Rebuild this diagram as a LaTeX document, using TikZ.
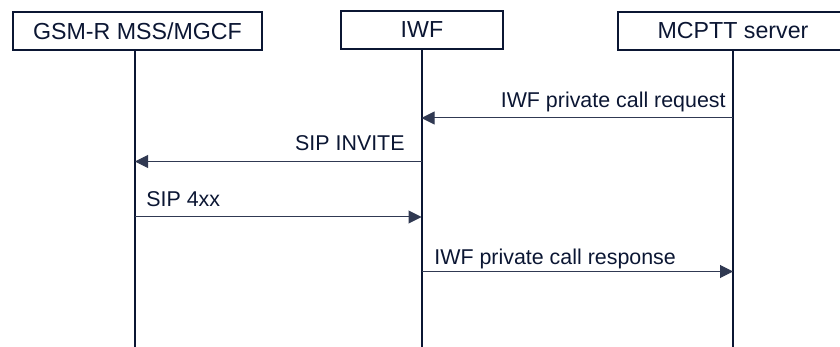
\documentclass[tikz,border=0pt]{standalone}
\usepackage{fontspec}
\setmainfont{Liberation Sans}
\usetikzlibrary{arrows.meta}
\definecolor{navy}{HTML}{0B1633}
\tikzset{
    entity/.style={draw=navy, line width=1pt, rectangle, minimum height=19.25pt, text=navy, font=\fontsize{11.6}{13}\selectfont},
    lifeline/.style={draw=navy, line width=1pt},
    msg/.style={draw=navy!85, line width=0.5pt, -{Triangle[length=6.5pt,width=6.5pt]}},
    msglabel/.style={text=navy, inner sep=0pt, font=\fontsize{10.7}{12}\selectfont}
}
\begin{document}
\begin{tikzpicture}[x=0.5pt, y=-0.5pt]
        \useasboundingbox (0,0) rectangle (840,347);

        \node[entity, minimum width=124.5pt] (mss) at (137.5,31) {GSM-R MSS/MGCF};
        \node[entity, minimum width=81pt] (iwf) at (422,30) {IWF};
        \node[entity, minimum width=115pt] (mcptt) at (733,31) {MCPTT server};

        \coordinate (mssbot) at (135,347);
        \coordinate (iwfbot) at (421.5,347);
        \coordinate (mcpttbot) at (733,347);
        \draw[lifeline] (mss.south -| mssbot) -- (mssbot);
        \draw[lifeline] (iwf.south -| iwfbot) -- (iwfbot);
        \draw[lifeline] (mcptt.south -| mcpttbot) -- (mcpttbot);

        % messages
        \coordinate (mcptt1) at (733,118);
        \coordinate (iwf1) at (421.5,118);
        \coordinate (iwf2) at (421.5,161.5);
        \coordinate (mss2) at (135,161.5);
        \coordinate (mss3) at (135,217);
        \coordinate (iwf3) at (421.5,217);
        \coordinate (iwf4) at (421.5,271.5);
        \coordinate (mcptt4) at (733,271.5);

        \draw[msg] (mcptt1) -- (iwf1);
        \draw[msg] (iwf2) -- (mss2);
        \draw[msg] (mss3) -- (iwf3);
        \draw[msg] (iwf4) -- (mcptt4);

        \node[msglabel, anchor=base east] (req) at (726,108) {IWF private call request};
        \node[msglabel, anchor=base east] (invite) at (405,151) {SIP INVITE};
        \node[msglabel, anchor=base west] (fourxx) at (146,206.5) {SIP 4xx};
        \node[msglabel, anchor=base west] (resp) at (434,264) {IWF private call response};
    \end{tikzpicture}
\end{document}
